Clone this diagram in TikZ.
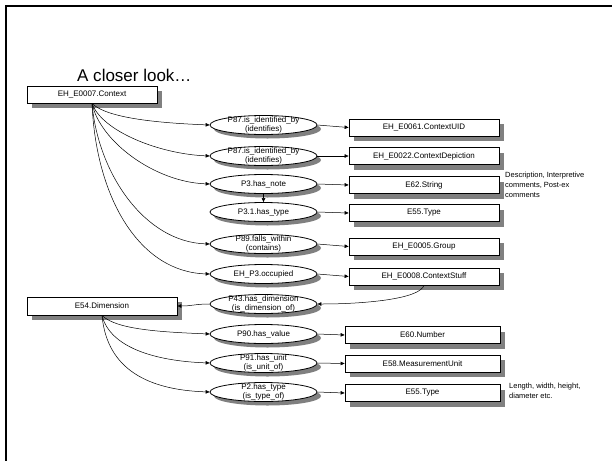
\documentclass[tikz,border=0pt]{standalone}
\usepackage{fontspec}
\setmainfont{Liberation Sans}
\usetikzlibrary{shapes.geometric,shadows,arrows.meta}
\newcommand\propnode[4]{%
  \node[pshadow] (#1-s) at (#2+4,#3+4) {};
  \node[prop] (#1) at (#2,#3) {};
  \node[ptext] (#1-t) at (#1) {#4};}
\begin{document}
\begin{tikzpicture}[x=1pt,y=-1pt,
  font=\fontsize{8}{9.2}\selectfont,
  ent/.style={draw, line width=0.8pt, fill=white, minimum width=150pt, minimum height=17pt, inner sep=0pt,
    drop shadow={shadow xshift=5pt, shadow yshift=-5pt, opacity=1, fill=black!50}},
  prop/.style={ellipse, draw, line width=0.8pt, fill=white, minimum width=107pt, minimum height=19pt, inner sep=0pt},
  pshadow/.style={ellipse, fill=black!50, minimum width=107pt, minimum height=19pt, inner sep=0pt},
  ptext/.style={align=center, inner sep=0pt},
  link/.style={line width=0.5pt, -{Triangle[length=4pt,width=3.5pt]}},
  note/.style={align=left, anchor=north west, inner sep=0pt, font=\fontsize{7.5}{10}\selectfont}]
\useasboundingbox (0,0) rectangle (612,461);
\fill[white] (0,0) rectangle (612,461);
\draw[line width=2pt] (612,6) -- (6,6) -- (6,461);

\node[anchor=base west, inner sep=0pt, font=\fontsize{17}{20}\selectfont] (title) at (77,81) {A closer look…};

% left entities
\node[ent, minimum width=130pt] (ctx) at (92,94.5) {EH\_E0007.Context};
\node[ent, minimum height=18pt] (dim) at (102,306) {E54.Dimension};

% properties
\propnode{p87a}{263.5}{125}{P87.is\_identified\_by\\(identifies)}
\propnode{p87b}{263.5}{156}{P87.is\_identified\_by\\(identifies)}
\propnode{hnote}{263.5}{184}{P3.has\_note}
\propnode{htype}{263.5}{212}{P3.1.has\_type}
\propnode{p89}{263.5}{244}{P89.falls\_within\\(contains)}
\propnode{occ}{263.5}{274}{EH\_P3.occupied}
\propnode{p43}{263.5}{304}{P43.has\_dimension\\(is\_dimension\_of)}
\propnode{p90}{263.5}{334}{P90.has\_value}
\propnode{p91}{263.5}{363}{P91.has\_unit\\(is\_unit\_of)}
\propnode{p2}{263.5}{392}{P2.has\_type\\(is\_type\_of)}

% right entities
\node[ent] (uid) at (424,127.5) {EH\_E0061.ContextUID};
\node[ent] (dep) at (424,156) {EH\_E0022.ContextDepiction};
\node[ent] (str) at (424,185) {E62.String};
\node[ent] (typ) at (424,213) {E55.Type};
\node[ent] (grp) at (424,246.5) {EH\_E0005.Group};
\node[ent] (stuff) at (424,276.5) {EH\_E0008.ContextStuff};
\node[ent, minimum width=155pt] (num) at (422.5,335) {E60.Number};
\node[ent, minimum width=155pt] (unit) at (422.5,363.5) {E58.MeasurementUnit};
\node[ent, minimum width=155pt] (typ2) at (422.5,393) {E55.Type};

% notes
\node[note] (strnote) at (505,171.5) {Description, Interpretive\\comments, Post-ex\\comments};
\node[note] (t2note) at (509,383) {Length, width, height,\\diameter etc.};

% connectors from Context
\draw[link] (ctx.south) .. controls +(15,15) and +(-50,-2) .. (p87a.west);
\draw[link] (ctx.south) .. controls +(10,28) and +(-50,-2) .. (p87b.west);
\draw[link] (ctx.south) .. controls +(8,38) and +(-55,-2) .. (hnote.west);
\draw[link] (ctx.south) .. controls +(6,70) and +(-65,-2) .. (p89.west);
\draw[link] (ctx.south) .. controls +(4,95) and +(-70,-2) .. (occ.west);

% property to entity
\draw[link] (p87a.east) -- (uid.west);
\draw[link] (p87b.east) -- (dep.west);
\draw[link] (hnote.east) -- (str.west);
\draw[link] (hnote.south) -- (htype.north);
\draw[link] (htype.east) -- (typ.west);
\draw[link] (p89.east) -- (grp.west);
\draw[link] (occ.east) -- (stuff.west);
\draw[link] (stuff.south) .. controls +(-5,14) and +(45,0) .. (p43.east);
\draw[link] (p43.west) .. controls +(-15,0) and +(15,0) .. (dim.east);

% connectors from Dimension
\draw[link] (dim.south) .. controls +(14,14) and +(-50,-2) .. (p90.west);
\draw[link] (dim.south) .. controls +(8,32) and +(-55,-2) .. (p91.west);
\draw[link] (dim.south) .. controls +(5,55) and +(-60,-2) .. (p2.west);
\draw[link] (p90.east) -- (num.west);
\draw[link] (p91.east) -- (unit.west);
\draw[link] (p2.east) -- (typ2.west);
\end{tikzpicture}
\end{document}
